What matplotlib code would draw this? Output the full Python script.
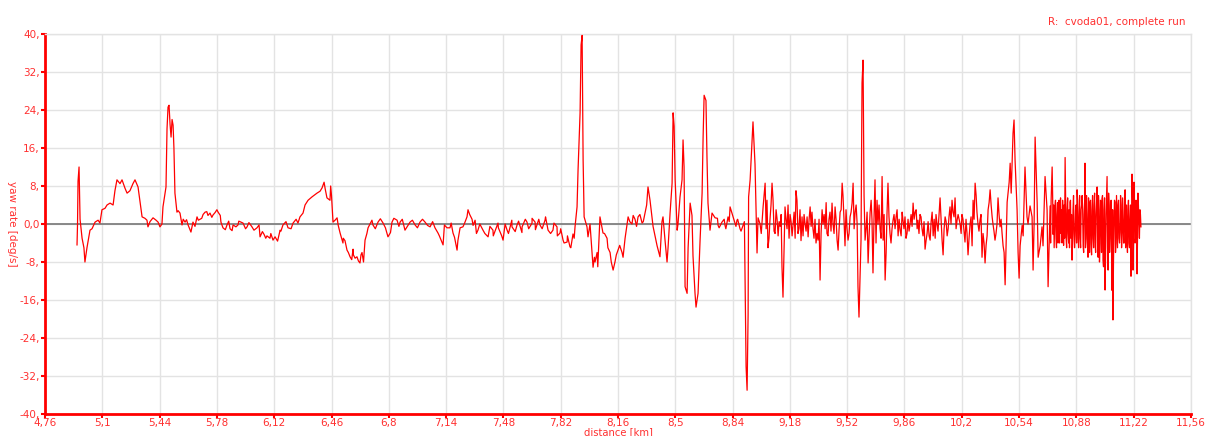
import numpy as np
import matplotlib
matplotlib.use("Agg")
import matplotlib.pyplot as plt
from matplotlib.ticker import FixedLocator, FuncFormatter

# distance [km] and yaw rate [deg/s]
distance = [
    4.950, 4.953, 4.956, 4.962, 4.968, 4.980, 4.991, 4.997, 5.009, 5.027,
    5.039, 5.057, 5.075, 5.086, 5.098, 5.116, 5.128, 5.146, 5.164, 5.175,
    5.187, 5.205, 5.217, 5.235, 5.247, 5.264, 5.282, 5.294, 5.312, 5.324,
    5.336, 5.353, 5.365, 5.371, 5.383, 5.401, 5.419, 5.431, 5.442, 5.454,
    5.460, 5.478, 5.484, 5.490, 5.496, 5.502, 5.508, 5.514, 5.520, 5.525,
    5.531, 5.543, 5.561, 5.573, 5.591, 5.609, 5.626, 5.638, 5.662, 5.680,
    5.698, 5.710, 5.727, 5.739, 5.757, 5.769, 5.787, 5.804, 5.816, 5.840,
    5.858, 5.876, 5.893, 5.905, 5.935, 5.959, 5.988, 6.018, 6.036, 6.060,
    6.077, 6.095, 6.113, 6.125, 6.155, 6.172, 6.202, 6.232, 6.261, 6.273,
    6.291, 6.303, 6.321, 6.344, 6.374, 6.392, 6.404, 6.416, 6.422, 6.433,
    6.451, 6.469, 6.481, 6.493, 6.511, 6.528, 6.540, 6.552, 6.570, 6.588,
    6.600, 6.611, 6.629, 6.641, 6.659, 6.677, 6.706, 6.736, 6.766, 6.795,
    6.819, 6.849, 6.867, 6.896, 6.926, 6.956, 6.985, 7.015, 7.045, 7.074,
    7.092, 7.122, 7.145, 7.163, 7.181, 7.205, 7.223, 7.240, 7.264, 7.270,
    7.294, 7.312, 7.329, 7.359, 7.389, 7.418, 7.448, 7.478, 7.502, 7.531,
    7.561, 7.591, 7.620, 7.650, 7.668, 7.697, 7.727, 7.745, 7.774, 7.798,
    7.816, 7.834, 7.858, 7.875, 7.893, 7.905, 7.917, 7.923, 7.935, 7.941,
    7.947, 7.953, 7.959, 7.976, 7.982, 7.994, 8.006, 8.012, 8.024, 8.036,
    8.053, 8.071, 8.095, 8.113, 8.131, 8.142, 8.160, 8.184, 8.202, 8.220,
    8.243, 8.261, 8.279, 8.303, 8.320, 8.338, 8.350, 8.368, 8.392, 8.409,
    8.421, 8.427, 8.439, 8.451, 8.457, 8.469, 8.481, 8.487, 8.493, 8.499,
    8.511, 8.516, 8.528, 8.540, 8.546, 8.552, 8.558, 8.570, 8.576, 8.588,
    8.599, 8.605, 8.617, 8.623, 8.635, 8.647, 8.659, 8.665, 8.671, 8.682,
    8.688, 8.694, 8.706, 8.718, 8.736, 8.754, 8.777, 8.795, 8.813, 8.825,
    8.843, 8.866, 8.884, 8.902, 8.914, 8.920, 8.926, 8.932, 8.935, 8.944,
    8.955, 8.961, 8.973, 8.985, 8.991, 9.003, 9.021, 9.033, 9.044, 9.050,
    9.062, 9.074, 9.080, 9.092, 9.104, 9.110, 9.122, 9.133, 9.139, 9.151,
    9.163, 9.181, 9.193, 9.199, 9.222, 9.228, 9.252, 9.258, 9.270, 9.282,
    9.288, 9.300, 9.317, 9.341, 9.347, 9.359, 9.371, 9.377, 9.400, 9.418,
    9.430, 9.436, 9.448, 9.460, 9.466, 9.478, 9.490, 9.495, 9.507, 9.519,
    9.525, 9.537, 9.549, 9.555, 9.567, 9.579, 9.584, 9.590, 9.602, 9.608,
    9.614, 9.620, 9.626, 9.638, 9.644, 9.656, 9.667, 9.673, 9.685, 9.697,
    9.703, 9.715, 9.727, 9.733, 9.745, 9.756, 9.762, 9.774, 9.786, 9.792,
    9.816, 9.822, 9.834, 9.851, 9.875, 9.893, 9.911, 9.923, 9.940, 9.952,
    9.964, 9.982, 9.994, 10.012, 10.024, 10.030, 10.053, 10.071, 10.083, 10.089,
    10.101, 10.113, 10.130, 10.142, 10.148, 10.160, 10.172, 10.178, 10.190, 10.207,
    10.219, 10.231, 10.237, 10.249, 10.261, 10.267, 10.279, 10.290, 10.296, 10.308,
    10.320, 10.326, 10.338, 10.350, 10.356, 10.368, 10.380, 10.385, 10.397, 10.409,
    10.415, 10.427, 10.439, 10.445, 10.457, 10.463, 10.469, 10.481, 10.487, 10.493,
    10.504, 10.510, 10.516, 10.528, 10.534, 10.540, 10.546, 10.558, 10.564, 10.575,
    10.587, 10.593, 10.605, 10.617, 10.623, 10.629, 10.635, 10.647, 10.653, 10.665,
    10.676, 10.682, 10.694, 10.706, 10.712, 10.724, 10.736, 10.742, 10.753, 10.759,
    10.765, 10.771, 10.783, 10.789, 10.795, 10.801, 10.813, 10.819, 10.825, 10.831,
    10.842, 10.848, 10.854, 10.860, 10.866, 10.872, 10.878, 10.884, 10.890, 10.896,
    10.902, 10.908, 10.914, 10.920, 10.926, 10.931, 10.937, 10.943, 10.949, 10.955,
    10.961, 10.967, 10.973, 10.979, 10.985, 10.991, 10.997, 11.003, 11.009, 11.014,
    11.020, 11.026, 11.032, 11.038, 11.044, 11.050, 11.056, 11.062, 11.068, 11.074,
    11.080, 11.086, 11.092, 11.097, 11.103, 11.109, 11.115, 11.121, 11.127, 11.133,
    11.139, 11.145, 11.151, 11.157, 11.163, 11.169, 11.174, 11.180, 11.186, 11.192,
    11.198, 11.204, 11.210, 11.216, 11.222, 11.228, 11.234, 11.240, 11.245, 11.251,
    11.257, 11.263,
]
yaw_rate = [
    -4.4, 0.0, 9.0, 12.0, 1.0, -3.0, -5.0, -8.0, -5.0, -1.3,
    -1.0, 0.4, 0.8, 0.2, 3.0, 3.3, 4.0, 4.4, 4.0, 7.0,
    9.3, 8.5, 9.3, 7.5, 6.5, 7.0, 8.5, 9.3, 7.8, 4.6,
    1.5, 1.2, 0.8, -0.6, 0.5, 1.3, 0.8, 0.4, -0.6, 0.0,
    3.6, 7.8, 20.0, 24.6, 25.0, 21.0, 18.3, 22.0, 20.8, 16.0,
    6.5, 2.5, 2.3, -0.2, 0.4, -0.2, -1.7, 0.4, 1.5, 1.0,
    2.0, 2.5, 1.8, 2.3, 1.9, 2.4, 2.5, 0.4, -0.8, -0.2,
    -1.0, -0.2, -0.6, -0.2, 0.2, -0.6, -0.6, -0.8, -2.7, -2.2,
    -2.5, -3.0, -3.4, -2.7, -1.3, -0.2, -0.8, 0.2, 0.2, 1.5,
    2.3, 4.0, 5.0, 5.7, 6.5, 6.9, 7.6, 8.8, 7.5, 5.5,
    5.0, 0.4, 0.8, 1.3, -1.9, -4.0, -3.5, -5.5, -6.9, -5.3,
    -7.2, -6.9, -8.2, -6.0, -3.4, -0.8, -0.2, 0.4, 0.2, -2.7,
    0.4, 0.8, 0.4, -1.3, 0.4, -0.2, 0.4, 0.4, -0.6, -0.8,
    -1.9, -4.4, -0.8, -0.8, -1.9, -5.5, -0.8, -0.6, 1.5, 3.0,
    1.0, 0.8, -1.3, -1.3, -2.7, -1.3, 0.2, -3.4, -1.3, -0.6,
    -0.2, -0.6, 0.4, 0.2, 0.4, -0.2, 0.8, -1.3, -1.3, -0.6,
    -1.9, -3.4, -3.8, -4.8, -2.1, -0.6, 3.6, 11.4, 23.4, 37.7,
    39.7, 13.5, 1.5, -0.6, -2.7, 0.0, -6.1, -9.1, -8.0, -6.0,
    1.5, -1.9, -3.0, -6.0, -9.7, -8.0, -5.5, -6.0, -3.0, 1.5,
    0.0, 1.0, 1.5, 0.2, 2.3, 7.8, 5.0, -0.5, -4.6, -6.9,
    0.5, 1.5, -3.4, -8.0, -5.0, 2.3, 8.6, 23.4, 20.6, 9.3,
    -1.3, 0.0, 5.7, 9.3, 17.7, 12.0, -13.2, -14.6, -5.0, 4.4,
    1.8, -6.7, -14.6, -17.5, -14.6, -3.4, 6.5, 18.3, 27.1, 26.0,
    14.0, 4.4, -1.3, 2.3, 1.3, -0.3, 0.4, -0.3, 1.5, 3.6,
    1.5, 0.8, -1.0, -0.3, -11.8, -30.0, -35.0, -19.0, 5.7, 9.3,
    17.0, 21.5, 12.6, -6.1, 1.3, 0.0, 3.6, 8.6, 5.0, -5.0,
    1.0, 8.6, 5.0, -2.0, 1.0, -2.5, -0.5, -9.0, -15.4, 3.6,
    -1.0, 2.0, -2.5, 0.0, 5.0, -2.0, 1.5, -2.5, 0.0, 1.5,
    -2.7, 3.6, -1.0, -2.0, -3.4, -11.8, 3.0, 0.0, -2.0, 2.5,
    4.4, 0.0, 3.6, -3.4, -5.5, 2.5, 8.6, 6.0, -4.6, -1.0,
    -3.4, 1.5, 4.4, 8.6, 2.5, 0.0, -13.2, -19.6, -3.4, 29.7,
    34.5, 6.0, -3.4, 2.5, -8.2, 2.5, 1.0, -10.3, 9.3, 5.0,
    0.0, -1.0, 10.0, -3.4, -11.8, 2.0, 8.6, -2.0, -1.0, 0.8,
    3.0, -2.5, -1.3, 0.8, -2.0, 0.0, 4.4, 2.5, 0.8, 2.0,
    -1.0, -5.3, -2.0, -3.4, 2.5, -2.5, 0.0, 5.5, -3.4, -6.5,
    1.5, -2.5, 3.6, 5.0, 2.5, 5.5, 0.8, 2.0, 0.0, 1.0,
    -3.8, -2.0, -6.5, 0.0, -4.6, 5.0, 8.6, 2.5, 0.0, 0.8,
    -7.0, -2.0, -8.2, -2.5, 3.0, 7.2, 1.5, 0.0, -3.4, 0.0,
    5.5, -0.6, -2.0, -4.6, -12.8, -4.0, 4.6, 8.8, 12.8, 6.5,
    19.1, 21.9, 13.5, 3.0, -6.0, -11.4, -4.6, -0.3, -2.5, 12.0,
    1.5, 0.0, 3.8, 1.5, -9.7, 0.0, 18.3, 4.6, -7.0, -4.6,
    -0.6, -4.6, 10.0, 3.0, -13.2, 3.8, 12.0, -2.2, 3.8, -3.0,
    2.0, -4.0, 3.8, -2.0, -4.0, 2.0, 14.0, -3.0, 3.0, -2.0,
    4.6, -3.0, -7.6, 3.0, -2.0, -2.5, 4.0, 7.2, -3.0, 2.0,
    -3.0, 3.0, 6.0, -4.6, 2.0, 12.8, -3.0, 2.0, -7.0, 2.0,
    4.6, -4.0, 3.0, -3.0, 4.0, -4.0, 2.0, 7.8, -7.0, 3.0,
    -4.0, 4.0, 5.3, -7.6, 3.0, -13.9, 2.0, 10.0, -9.7, 4.0,
    -3.0, 5.0, -14.0, -20.2, 0.0, 4.6, -4.0, 0.5, 4.0, -3.0,
    -1.8, 4.0, -2.0, 1.0, -4.0, 7.2, -3.0, -2.5, 3.0, -4.0,
    1.0, -11.0, 10.5, -9.7, 8.8, -4.0, 5.0, -10.5, 6.5, 0.0,
    3.0, -0.6,
]

# extra in-between samples for the jittery stretches
fine_distance = [
    5.550, 5.580, 5.600, 5.650, 5.670, 5.690, 5.720, 5.750, 5.780, 5.800,
    5.830, 5.850, 5.870, 5.910, 5.950, 5.970, 6.000, 6.030, 6.050, 6.070,
    6.100, 6.140, 6.160, 6.190, 6.220, 6.250,
    6.455, 6.460, 6.500, 6.530, 6.560, 6.580, 6.590, 6.620, 6.635, 6.650, 6.670,
    6.700, 6.720, 6.750, 6.780, 6.810, 6.830, 6.860, 6.880, 6.910, 6.940,
    6.970, 7.000, 7.030, 7.060, 7.100, 7.130,
    7.170, 7.190, 7.210, 7.250, 7.280, 7.300, 7.320, 7.340, 7.370, 7.400,
    7.420, 7.450, 7.470, 7.490, 7.510, 7.530, 7.550, 7.570, 7.590, 7.610,
    7.630, 7.650, 7.670, 7.690, 7.710, 7.730, 7.760, 7.780, 7.800, 7.820,
    7.840, 7.860, 7.880, 7.900,
    8.020, 8.040, 8.080, 8.100, 8.120, 8.150, 8.170, 8.190, 8.230, 8.250,
    8.270, 8.290, 8.310, 8.330,
    8.750, 8.760, 8.790, 8.800, 8.820, 8.860, 8.870, 8.890, 8.910,
    9.010, 9.027, 9.039, 9.056, 9.068, 9.086, 9.098, 9.116, 9.128, 9.145,
    9.157, 9.169, 9.175, 9.187, 9.205, 9.211, 9.216, 9.234, 9.240, 9.246,
    9.264, 9.276, 9.294, 9.306, 9.311, 9.323, 9.329, 9.335, 9.353, 9.365,
    9.383, 9.389, 9.395, 9.406, 9.412, 9.424, 9.442, 9.454, 9.472, 9.484,
    9.501, 9.513, 9.531, 9.543, 9.561, 9.573,
    9.632, 9.650, 9.662, 9.679, 9.691, 9.709, 9.721, 9.739, 9.751, 9.768,
    9.780, 9.798, 9.804, 9.810, 9.828, 9.840, 9.846, 9.857, 9.863, 9.869,
    9.881, 9.887, 9.899, 9.905, 9.917, 9.929, 9.935, 9.946, 9.958, 9.970,
    9.976, 9.988, 10.000, 10.006, 10.018, 10.036, 10.042, 10.047, 10.059, 10.065,
    10.077, 10.095, 10.107, 10.119, 10.124, 10.136, 10.154, 10.166, 10.184, 10.196,
    10.201, 10.213, 10.225, 10.243, 10.255, 10.273, 10.285, 10.302, 10.314, 10.332,
    10.344, 10.362, 10.374, 10.391, 10.403, 10.421, 10.433, 10.451,
    10.727, 10.730, 10.739, 10.745, 10.748, 10.756, 10.762, 10.768, 10.774, 10.777,
    10.780, 10.786, 10.792, 10.798, 10.804, 10.807, 10.810, 10.816, 10.822, 10.828,
    10.834, 10.837, 10.839, 10.845, 10.851, 10.857, 10.863, 10.869, 10.875, 10.881,
    10.887, 10.893, 10.899, 10.905, 10.911, 10.917, 10.923, 10.929, 10.934, 10.940,
    10.946, 10.952, 10.958, 10.964, 10.970, 10.976, 10.982, 10.988, 10.994, 11.000,
    11.006, 11.011, 11.017, 11.023, 11.029, 11.035, 11.041, 11.047, 11.053, 11.059,
    11.065, 11.071, 11.077, 11.083, 11.089, 11.095, 11.100, 11.106, 11.112, 11.118,
    11.124, 11.130, 11.136, 11.142, 11.148, 11.154, 11.160, 11.166, 11.172, 11.177,
    11.183, 11.189, 11.195, 11.201, 11.207, 11.213, 11.219, 11.225, 11.231, 11.237,
    11.243, 11.248, 11.254, 11.260,
]
fine_yaw = [
    2.8, 1.0, 0.9, -0.5, 0.8, 1.2, 2.6, 1.4, 3.0, 1.8,
    -1.2, 0.6, -1.4, 0.6, -1.0, 0.3, -1.3, -0.2, -1.6, -3.0,
    -2.0, -3.6, -1.5, 0.5, -1.0, 1.0,
    8.0, 6.0, -0.3, -3.0, -6.0, -7.5, -6.5, -7.8, -6.5, -8.0, -2.0,
    0.8, -1.0, 1.1, -0.8, -1.8, 1.2, -0.5, 1.0, -0.5, 0.8,
    -0.8, 1.0, -0.3, 0.5, -2.5, -0.2,
    0.2, -2.8, -3.5, 0.2, 2.0, -0.3, -2.0, 0.0, -2.0, -0.5,
    -2.5, -0.8, -2.5, 0.0, -2.0, 0.8, -1.6, 0.6, -1.8, 1.0,
    -1.0, 1.2, -1.2, 1.0, -1.0, 1.5, -2.0, 0.2, -2.5, -1.0,
    -4.0, -2.5, -5.0, -3.0,
    -7.0, -9.0, -2.0, -5.0, -8.0, -6.5, -4.5, -7.0, 0.5, 1.8,
    -0.5, 2.0, 0.5, 4.0,
    1.2, -0.8, 1.0, -1.0, 0.5, -0.5, 1.0, -1.5, 0.5,
    -2.0, 6.0, -1.0, -3.0, 4.0, -1.5, 3.0, 0.5, 2.0, -6.0,
    1.0, 4.0, -3.0, 0.5, 2.5, -3.0, 7.0, -1.0, 3.0, -3.5,
    2.0, -1.5, 1.0, -0.5, 2.5, -3.0, 1.0, -4.0, 1.0, -2.0,
    2.0, -1.0, 4.5, -2.5, 1.0, -1.5, -2.0, 1.0, -1.0, 3.0,
    1.0, 3.0, -2.0, 2.5, -1.0, 4.0,
    -1.0, -2.5, 5.0, 1.0, -4.0, 4.0, -3.0, 2.0, -6.0, 1.5,
    -4.0, 2.0, -1.0, 1.5, 1.0, -2.5, 2.5, -1.0, 1.5, -3.0,
    1.0, -1.5, 2.0, -0.5, 1.0, 3.0, -1.0, -2.0, 1.5, -2.5,
    0.5, -3.5, 0.5, -2.5, 0.5, 1.0, -3.0, 2.0, -1.5, 2.0,
    1.0, -1.0, 0.5, -1.0, 1.5, 0.0, 1.5, -1.0, 1.0, -2.0,
    2.0, -1.5, 1.0, -3.0, 1.5, 1.0, 6.0, -1.5, 2.0, -4.0,
    -4.5, 4.5, 4.0, -1.5, -2.0, 2.0, 1.0, -6.0,
    -4.0, 5.0, 6.0, 4.0, -5.0, 5.0, -5.0, 4.5, -2.0, 5.0,
    -4.0, 5.5, 3.0, 5.0, -4.5, 4.0, -3.0, 6.0, -5.0, 5.5,
    -4.0, 3.0, -5.0, 5.0, 2.0, -4.0, 6.0, -5.0, 3.0, -4.0,
    5.0, -5.0, 6.0, -5.0, 4.0, 3.0, -6.0, 5.0, -5.0, 6.0,
    -4.0, 5.5, -6.0, 5.0, -6.5, 6.0, -5.0, 6.5, -6.0, 5.0,
    -5.0, 6.0, -8.0, 5.0, -6.0, 6.0, -9.0, 5.5, -7.0, 6.0,
    -5.0, 6.5, -6.0, 4.0, -6.0, 3.0, -8.0, 5.0, -6.0, 6.0,
    -5.0, 5.0, -4.0, 6.0, -5.0, 5.5, -4.0, 6.0, -5.0, 4.0,
    -6.0, 5.0, -5.0, 4.0, -3.0, 5.0, -4.0, 4.0, -3.0, 3.0,
    -2.0, 4.0, -3.0, 2.0,
]

x_ticks = [4.76, 5.1, 5.44, 5.78, 6.12, 6.46, 6.8, 7.14, 7.48, 7.82, 8.16,
           8.5, 8.84, 9.18, 9.52, 9.86, 10.2, 10.54, 10.88, 11.22, 11.56]
y_ticks = [-40, -32, -24, -16, -8, 0, 8, 16, 24, 32, 40]

RED = "#ff0000"
TXT = "#ff3030"
GRID = "#e3e3e3"

# merge the main and in-between samples in distance order
d_all = np.array(distance + fine_distance)
y_all = np.array(yaw_rate + fine_yaw)
order = np.argsort(d_all, kind="stable")
d_all, y_all = d_all[order], y_all[order]

fig = plt.figure(figsize=(12.07, 4.36), dpi=100)
ax = fig.add_axes([45 / 1207, 1 - 414 / 436, (1191 - 45) / 1207, (414 - 34) / 436])

ax.axhline(0, color="#808080", lw=1.3, zorder=2)
ax.plot(d_all, y_all, color=RED, lw=0.9, zorder=3)

ax.set_xlim(4.76, 11.56)
ax.set_ylim(-40, 40)
ax.xaxis.set_major_locator(FixedLocator(x_ticks))
ax.yaxis.set_major_locator(FixedLocator(y_ticks))


def fmt_x(v, pos):
    s = ("%.2f" % v).rstrip("0").rstrip(".")
    return s.replace(".", ",")


def fmt_y(v, pos):
    if v == 0:
        return "0,0"
    return "%d," % v


ax.xaxis.set_major_formatter(FuncFormatter(fmt_x))
ax.yaxis.set_major_formatter(FuncFormatter(fmt_y))

ax.grid(True, color=GRID, lw=1.0, zorder=0)
ax.set_axisbelow(True)
for side in ("top", "right"):
    ax.spines[side].set_color(GRID)
    ax.spines[side].set_linewidth(1.0)
for side in ("left", "bottom"):
    ax.spines[side].set_color(RED)
    ax.spines[side].set_linewidth(2.0)

ax.tick_params(axis="both", colors=RED, labelcolor=TXT, labelsize=7.5,
               length=3, width=1.5, pad=1)
ax.tick_params(axis="x", pad=0)

ax.set_xlabel("distance [km]", color=TXT, fontsize=7.2, va="center")
ax.xaxis.set_label_coords(0.5, -0.048)
ax.set_ylabel("yaw rate [deg/s]", color=TXT, fontsize=7.5, rotation=270,
              va="center")
ax.yaxis.set_label_coords(-0.029, 0.5)

fig.text(1186 / 1207, 1 - 22 / 436, "R:  cvoda01, complete run", color=TXT,
         fontsize=7.5, ha="right", va="center")

fig.savefig("out.png", dpi=100)
